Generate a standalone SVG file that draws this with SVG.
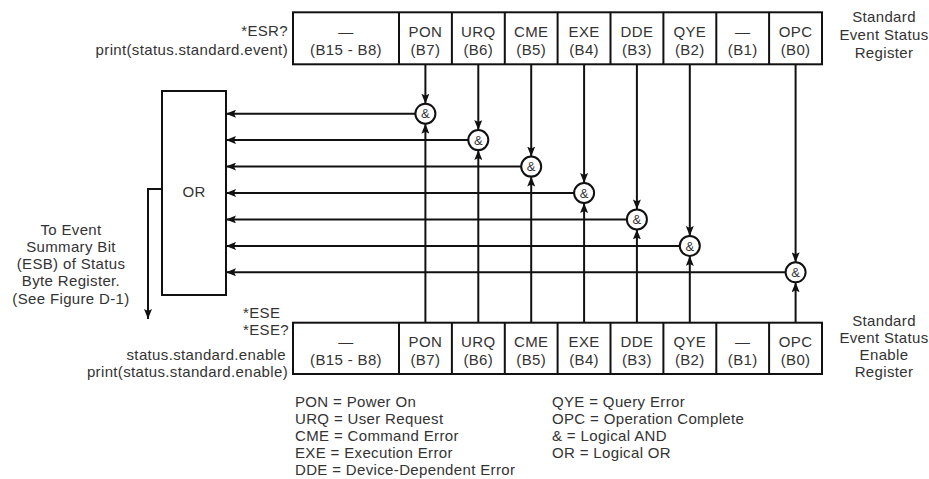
<svg xmlns="http://www.w3.org/2000/svg" width="929" height="479" viewBox="0 0 929 479">
<style>
text{font-family:"Liberation Sans",Arial,sans-serif;font-size:15px;fill:#333;letter-spacing:0.35px}
.c{text-anchor:middle}
.e{text-anchor:end}
.amp{font-size:13px;text-anchor:middle;letter-spacing:0}
.box{fill:#fff;stroke:#111;stroke-width:2}
.ln{fill:none;stroke:#111;stroke-width:2}
.ar{fill:none;stroke:#111;stroke-width:2;marker-end:url(#ah)}
</style>
<defs>
<marker id="ah" viewBox="0 0 10 8" refX="10" refY="4" markerWidth="10" markerHeight="8" markerUnits="userSpaceOnUse" orient="auto">
<path d="M0,0 L10,4 L0,8 L2,4 z" fill="#111"/>
</marker>
</defs>
<rect width="929" height="479" fill="#fff"/>

<g id="connectors">
<!-- top register to gates -->
<line class="ar" x1="425.4" y1="64" x2="425.4" y2="103.7"/>
<line class="ar" x1="478.3" y1="64" x2="478.3" y2="130.1"/>
<line class="ar" x1="531.2" y1="64" x2="531.2" y2="156.6"/>
<line class="ar" x1="584.1" y1="64" x2="584.1" y2="183"/>
<line class="ar" x1="636.9" y1="64" x2="636.9" y2="209.4"/>
<line class="ar" x1="689.8" y1="64" x2="689.8" y2="235.9"/>
<line class="ar" x1="795.6" y1="64" x2="795.6" y2="262.3"/>
<!-- bottom register to gates -->
<line class="ar" x1="425.4" y1="323" x2="425.4" y2="123.7"/>
<line class="ar" x1="478.3" y1="323" x2="478.3" y2="150.1"/>
<line class="ar" x1="531.2" y1="323" x2="531.2" y2="176.6"/>
<line class="ar" x1="584.1" y1="323" x2="584.1" y2="203"/>
<line class="ar" x1="636.9" y1="323" x2="636.9" y2="229.4"/>
<line class="ar" x1="689.8" y1="323" x2="689.8" y2="255.9"/>
<line class="ar" x1="795.6" y1="323" x2="795.6" y2="282.3"/>
<!-- gates to OR -->
<line class="ar" x1="415.4" y1="113.7" x2="226" y2="113.7"/>
<line class="ar" x1="468.3" y1="140.1" x2="226" y2="140.1"/>
<line class="ar" x1="521.2" y1="166.6" x2="226" y2="166.6"/>
<line class="ar" x1="574.1" y1="193" x2="226" y2="193"/>
<line class="ar" x1="626.9" y1="219.4" x2="226" y2="219.4"/>
<line class="ar" x1="679.8" y1="245.9" x2="226" y2="245.9"/>
<line class="ar" x1="785.6" y1="272.3" x2="226" y2="272.3"/>
<!-- OR output -->
<polyline class="ar" points="162,189 148,189 148,319"/>
</g>

<g id="esr-register">
<rect class="box" x="293" y="12.3" width="529" height="52"/>
<path class="ln" d="M399,12.3V64.3M451.9,12.3V64.3M504.8,12.3V64.3M557.6,12.3V64.3M610.5,12.3V64.3M663.4,12.3V64.3M716.3,12.3V64.3M769.1,12.3V64.3"/>
<text class="c" x="346" y="37">—</text><text class="c" x="346" y="55">(B15 - B8)</text>
<text class="c" x="425.4" y="37">PON</text><text class="c" x="425.4" y="55">(B7)</text>
<text class="c" x="478.3" y="37">URQ</text><text class="c" x="478.3" y="55">(B6)</text>
<text class="c" x="531.2" y="37">CME</text><text class="c" x="531.2" y="55">(B5)</text>
<text class="c" x="584.1" y="37">EXE</text><text class="c" x="584.1" y="55">(B4)</text>
<text class="c" x="636.9" y="37">DDE</text><text class="c" x="636.9" y="55">(B3)</text>
<text class="c" x="689.8" y="37">QYE</text><text class="c" x="689.8" y="55">(B2)</text>
<text class="c" x="742.7" y="37">—</text><text class="c" x="742.7" y="55">(B1)</text>
<text class="c" x="795.6" y="37">OPC</text><text class="c" x="795.6" y="55">(B0)</text>
</g>

<g id="esr-commands">
<text class="e" x="288" y="36">*ESR?</text>
<text class="e" x="288" y="55">print(status.standard.event)</text>
</g>

<g id="esr-label">
<text class="c" x="884" y="22">Standard</text>
<text class="c" x="884" y="40">Event Status</text>
<text class="c" x="884" y="58">Register</text>
</g>

<g id="ese-register">
<rect class="box" x="293" y="322.7" width="529" height="51.3"/>
<path class="ln" d="M399,322.7V374M451.9,322.7V374M504.8,322.7V374M557.6,322.7V374M610.5,322.7V374M663.4,322.7V374M716.3,322.7V374M769.1,322.7V374"/>
<text class="c" x="346" y="347">—</text><text class="c" x="346" y="365">(B15 - B8)</text>
<text class="c" x="425.4" y="347">PON</text><text class="c" x="425.4" y="365">(B7)</text>
<text class="c" x="478.3" y="347">URQ</text><text class="c" x="478.3" y="365">(B6)</text>
<text class="c" x="531.2" y="347">CME</text><text class="c" x="531.2" y="365">(B5)</text>
<text class="c" x="584.1" y="347">EXE</text><text class="c" x="584.1" y="365">(B4)</text>
<text class="c" x="636.9" y="347">DDE</text><text class="c" x="636.9" y="365">(B3)</text>
<text class="c" x="689.8" y="347">QYE</text><text class="c" x="689.8" y="365">(B2)</text>
<text class="c" x="742.7" y="347">—</text><text class="c" x="742.7" y="365">(B1)</text>
<text class="c" x="795.6" y="347">OPC</text><text class="c" x="795.6" y="365">(B0)</text>
</g>

<g id="ese-commands">
<text x="243" y="318">*ESE</text>
<text class="e" x="289" y="335">*ESE?</text>
<text class="e" x="286" y="360">status.standard.enable</text>
<text class="e" x="288" y="377">print(status.standard.enable)</text>
</g>

<g id="ese-label">
<text class="c" x="884" y="325.5">Standard</text>
<text class="c" x="884" y="342.8">Event Status</text>
<text class="c" x="884" y="360.1">Enable</text>
<text class="c" x="884" y="377.4">Register</text>
</g>

<g id="or-gate">
<rect class="box" x="162" y="91" width="64" height="204"/>
<text class="c" x="194" y="197">OR</text>
</g>

<g id="and-pon"><circle class="box" cx="425.4" cy="113.7" r="10"/><text class="amp" x="425.4" y="118.4">&amp;</text></g>
<g id="and-urq"><circle class="box" cx="478.3" cy="140.1" r="10"/><text class="amp" x="478.3" y="144.8">&amp;</text></g>
<g id="and-cme"><circle class="box" cx="531.2" cy="166.6" r="10"/><text class="amp" x="531.2" y="171.3">&amp;</text></g>
<g id="and-exe"><circle class="box" cx="584.1" cy="193" r="10"/><text class="amp" x="584.1" y="197.7">&amp;</text></g>
<g id="and-dde"><circle class="box" cx="636.9" cy="219.4" r="10"/><text class="amp" x="636.9" y="224.1">&amp;</text></g>
<g id="and-qye"><circle class="box" cx="689.8" cy="245.9" r="10"/><text class="amp" x="689.8" y="250.6">&amp;</text></g>
<g id="and-opc"><circle class="box" cx="795.6" cy="272.3" r="10"/><text class="amp" x="795.6" y="277">&amp;</text></g>

<g id="esb-label">
<text class="c" x="71" y="235">To Event</text>
<text class="c" x="71" y="252">Summary Bit</text>
<text class="c" x="71" y="269">(ESB) of Status</text>
<text class="c" x="71" y="286">Byte Register.</text>
<text class="c" x="71" y="304">(See Figure D-1)</text>
</g>

<g id="legend">
<text x="295" y="407">PON = Power On</text>
<text x="295" y="424">URQ = User Request</text>
<text x="295" y="441">CME = Command Error</text>
<text x="295" y="458">EXE = Execution Error</text>
<text x="295" y="474.5">DDE = Device-Dependent Error</text>
<text x="552" y="407">QYE = Query Error</text>
<text x="552" y="424">OPC = Operation Complete</text>
<text x="552" y="441">&amp; = Logical AND</text>
<text x="552" y="458">OR = Logical OR</text>
</g>
</svg>
